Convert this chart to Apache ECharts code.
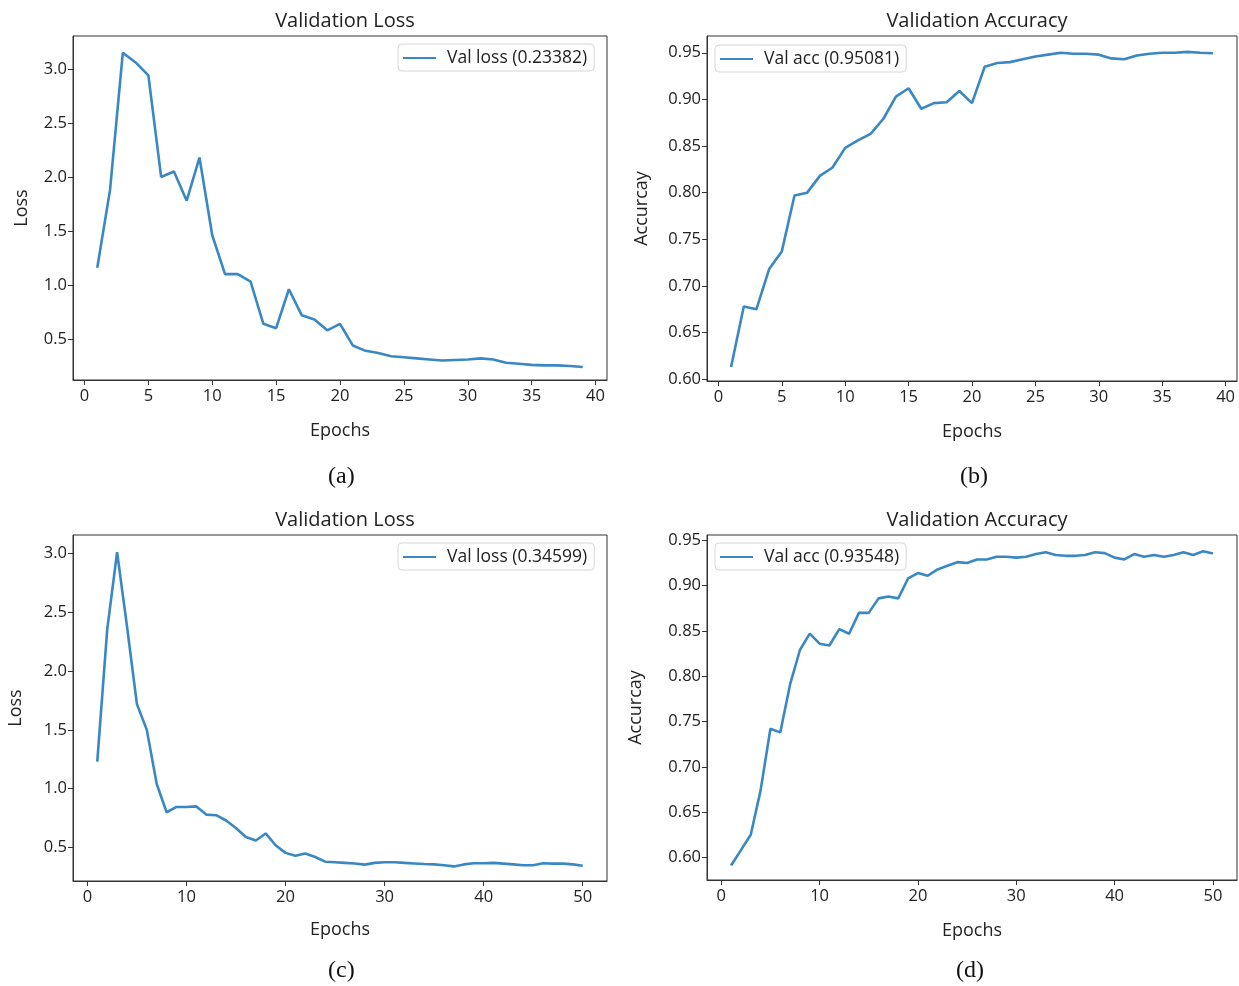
<!DOCTYPE html>
<html>
<head>
<meta charset="utf-8">
<script src="https://cdn.jsdelivr.net/npm/echarts@6/dist/echarts.min.js"></script>
<style>
  html, body { margin: 0; background: #fff; }
  #chart { width: 1239px; height: 986px; }
</style>
</head>
<body>
<div id="chart"></div>
<script>
// values
const lossA = [1.16, 1.88, 3.15, 3.06, 2.94, 2.00, 2.05, 1.78, 2.18, 1.46, 1.10, 1.10, 1.03, 0.64, 0.60, 0.96, 0.72, 0.68, 0.58, 0.64,
  0.44, 0.39, 0.37, 0.34, 0.33, 0.32, 0.31, 0.30, 0.305, 0.31, 0.32, 0.31, 0.28, 0.27, 0.26, 0.255, 0.255, 0.25, 0.24];
const accB = [0.613, 0.678, 0.675, 0.718, 0.737, 0.797, 0.800, 0.818, 0.827, 0.848, 0.856, 0.863, 0.879, 0.903, 0.912, 0.890, 0.896, 0.897, 0.909, 0.896,
  0.935, 0.939, 0.940, 0.943, 0.946, 0.948, 0.950, 0.949, 0.949, 0.948, 0.944, 0.943, 0.947, 0.949, 0.950, 0.950, 0.951, 0.950, 0.9495];
const lossC = [1.23, 2.35, 3.01, 2.38, 1.72, 1.50, 1.04, 0.80, 0.845, 0.845, 0.85, 0.78, 0.775, 0.73, 0.667, 0.59, 0.56, 0.62, 0.52, 0.455,
  0.43, 0.45, 0.42, 0.38, 0.375, 0.37, 0.365, 0.355, 0.37, 0.375, 0.375, 0.37, 0.365, 0.36, 0.357, 0.35, 0.34, 0.357, 0.367, 0.367,
  0.37, 0.364, 0.357, 0.35, 0.35, 0.367, 0.364, 0.364, 0.357, 0.346];
const accD = [0.591, 0.608, 0.625, 0.674, 0.742, 0.738, 0.791, 0.829, 0.847, 0.836, 0.834, 0.852, 0.847, 0.870, 0.870, 0.886, 0.888, 0.886, 0.908, 0.914,
  0.911, 0.918, 0.922, 0.926, 0.925, 0.929, 0.929, 0.932, 0.932, 0.931, 0.932, 0.935, 0.937, 0.934, 0.933, 0.933, 0.934, 0.937, 0.936, 0.931,
  0.929, 0.935, 0.932, 0.934, 0.932, 0.934, 0.937, 0.934, 0.938, 0.9355];

const xTicks40 = [0, 5, 10, 15, 20, 25, 30, 35, 40];
const xTicks50 = [0, 10, 20, 30, 40, 50];
const lossTicks = [0.5, 1.0, 1.5, 2.0, 2.5, 3.0];
const accTicks = [0.60, 0.65, 0.70, 0.75, 0.80, 0.85, 0.90, 0.95];

const names = ['Val loss (0.23382)', 'Val acc (0.95081)', 'Val loss (0.34599)', 'Val acc (0.93548)'];

const FONT = 'Open Sans';
const LINE = '#3a88c3';
const AXIS = '#333';

const withEpochs = arr => arr.map((v, i) => [i + 1, v]);

function xAxisOf(gridIndex, min, max, ticks, nameGap) {
    return {
        type: 'value', gridIndex, min, max,
        name: 'Epochs', nameLocation: 'middle', nameGap,
        nameTextStyle: { fontFamily: FONT, fontSize: 18, color: '#222' },
        axisLine: { show: true, onZero: false, lineStyle: { color: AXIS, width: 1 } },
        axisTick: { show: true, customValues: ticks, length: 5, lineStyle: { color: AXIS } },
        axisLabel: { customValues: ticks, color: '#222', fontFamily: FONT, fontSize: 16.5, margin: 8 },
        splitLine: { show: false }
    };
}

function yAxisOf(gridIndex, min, max, ticks, name, nameGap, digits) {
    return {
        type: 'value', gridIndex, min, max,
        name, nameLocation: 'middle', nameGap,
        nameTextStyle: { fontFamily: FONT, fontSize: 18, color: '#222' },
        axisLine: { show: true, onZero: false, lineStyle: { color: AXIS, width: 1 } },
        axisTick: { show: true, customValues: ticks, length: 5, lineStyle: { color: AXIS } },
        axisLabel: {
            customValues: ticks, color: '#222', fontFamily: FONT, fontSize: 16.5, margin: 6,
            formatter: v => Number(v).toFixed(digits)
        },
        splitLine: { show: false }
    };
}

function seriesOf(idx, data) {
    return {
        name: names[idx], type: 'line', xAxisIndex: idx, yAxisIndex: idx,
        data: withEpochs(data), showSymbol: false, symbol: 'none',
        lineStyle: { color: LINE, width: 2.6 }, itemStyle: { color: LINE }
    };
}

function legendOf(idx, left, top) {
    return {
        data: [names[idx]], left, top,
        orient: 'horizontal',
        backgroundColor: '#fff', borderColor: '#d6d6d6', borderWidth: 1, borderRadius: 4,
        padding: [5, 7, 4, 5],
        icon: 'path://M0,0 L34,0 L34,2 L0,2 Z', itemWidth: 33, itemHeight: 2.6,
        textStyle: { fontFamily: FONT, fontSize: 17.5, color: '#222', padding: [0, 0, 0, 6] }
    };
}

const titleStyle = { fontFamily: FONT, fontSize: 20, fontWeight: 'normal', color: '#222' };

const chart = echarts.init(document.getElementById('chart'), null, { renderer: 'canvas' });

const option = {
    backgroundColor: '#fff',
    animation: false,
    title: [
        { text: 'Validation Loss', left: 340, top: 6, textAlign: 'center', textStyle: titleStyle },
        { text: 'Validation Accuracy', left: 972, top: 6, textAlign: 'center', textStyle: titleStyle },
        { text: 'Validation Loss', left: 340, top: 505, textAlign: 'center', textStyle: titleStyle },
        { text: 'Validation Accuracy', left: 972, top: 505, textAlign: 'center', textStyle: titleStyle }
    ],
    grid: [
        { left: 73, top: 36, width: 534, height: 344, show: true, borderColor: AXIS, borderWidth: 1 },
        { left: 707, top: 36, width: 530, height: 345, show: true, borderColor: AXIS, borderWidth: 1 },
        { left: 73, top: 535, width: 534, height: 346, show: true, borderColor: AXIS, borderWidth: 1 },
        { left: 707, top: 535, width: 530, height: 345, show: true, borderColor: AXIS, borderWidth: 1 }
    ],
    xAxis: [
        xAxisOf(0, -0.9, 40.9, xTicks40, 42),
        xAxisOf(1, -0.9, 40.9, xTicks40, 42),
        xAxisOf(2, -1.45, 52.45, xTicks50, 40),
        xAxisOf(3, -1.45, 52.45, xTicks50, 42)
    ],
    yAxis: [
        yAxisOf(0, 0.12, 3.305, lossTicks, 'Loss', 42, 1),
        yAxisOf(1, 0.598, 0.968, accTicks, 'Accurcay', 56, 2),
        yAxisOf(2, 0.216, 3.156, lossTicks, 'Loss', 48, 1),
        yAxisOf(3, 0.575, 0.956, accTicks, 'Accurcay', 62, 2)
    ],
    legend: [
        legendOf(0, 398, 44),
        legendOf(1, 715, 45),
        legendOf(2, 398, 543),
        legendOf(3, 715, 543)
    ],
    series: [
        seriesOf(0, lossA),
        seriesOf(1, accB),
        seriesOf(2, lossC),
        seriesOf(3, accD)
    ],
    graphic: [
        { type: 'text', left: 328, top: 465, style: { text: '(a)', font: '24px "Liberation Serif"', fill: '#111' } },
        { type: 'text', left: 960, top: 465, style: { text: '(b)', font: '24px "Liberation Serif"', fill: '#111' } },
        { type: 'text', left: 328, top: 959, style: { text: '(c)', font: '24px "Liberation Serif"', fill: '#111' } },
        { type: 'text', left: 956, top: 959, style: { text: '(d)', font: '24px "Liberation Serif"', fill: '#111' } }
    ]
};

chart.setOption(option);
window.addEventListener('resize', () => chart.resize());
</script>
</body>
</html>
